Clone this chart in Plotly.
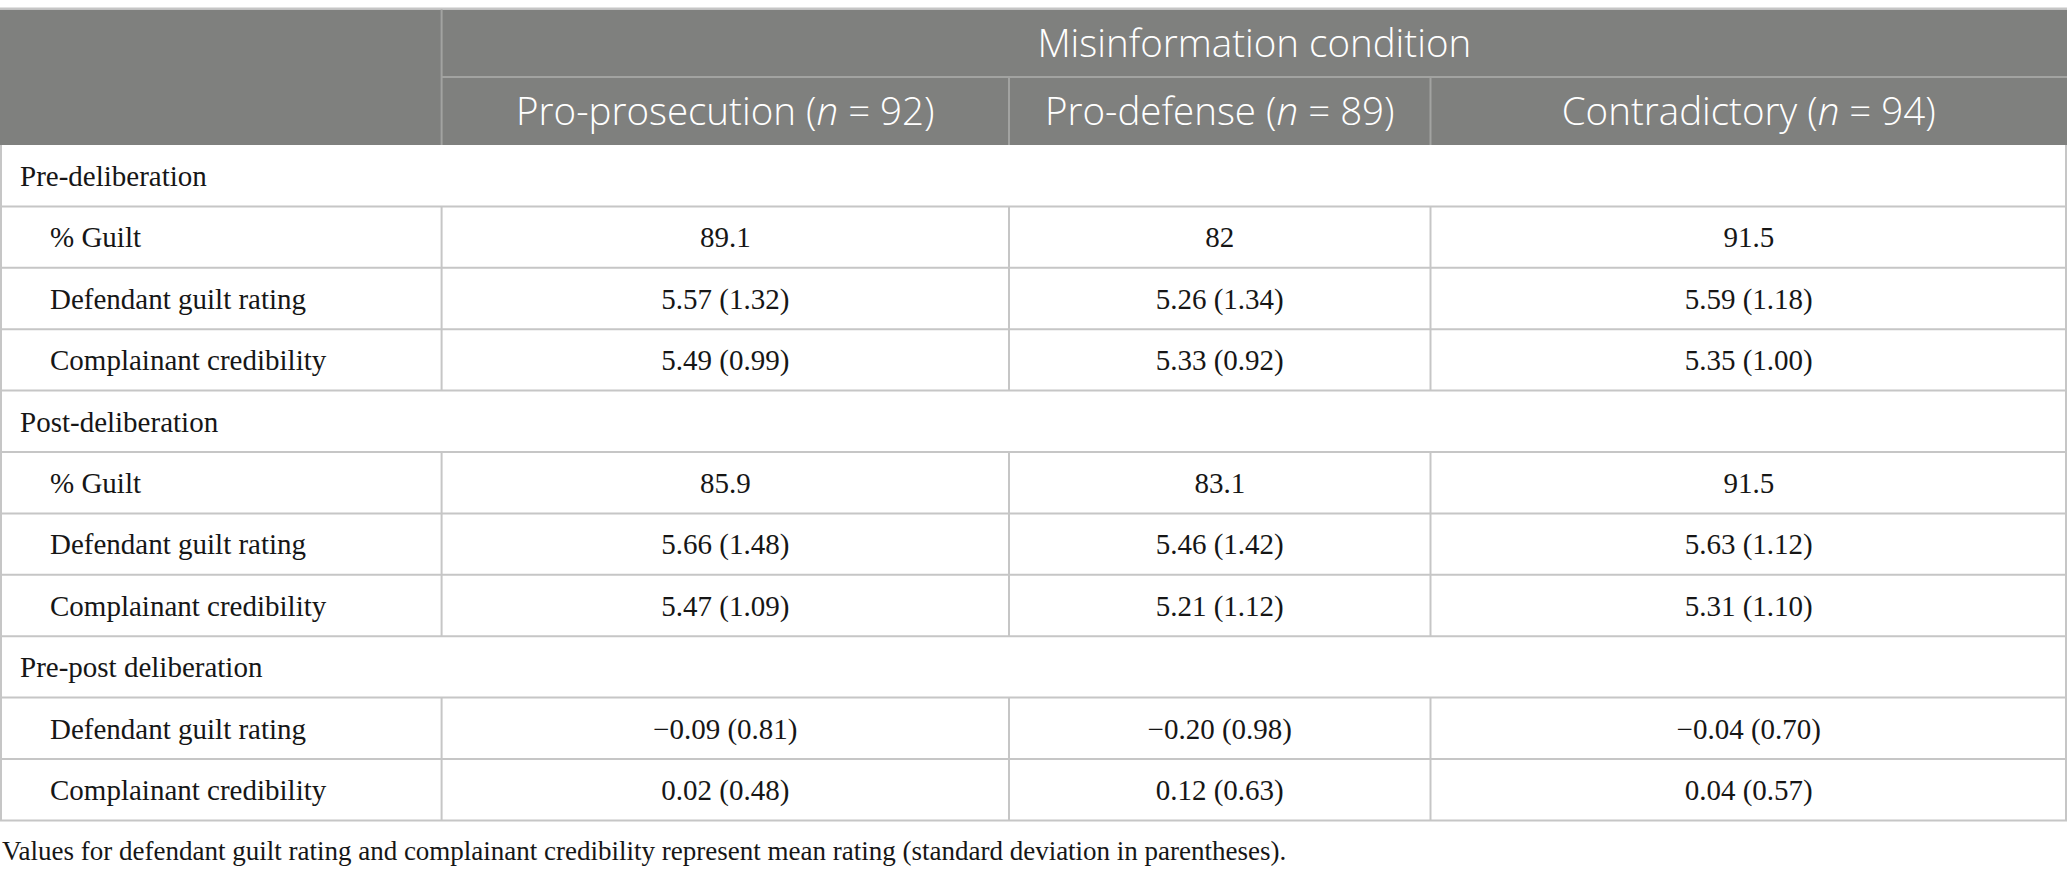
import plotly.graph_objects as go

W, H = 2067, 877

# table content
col_headers = ['Pro-prosecution (<i>n</i> = 92)', 'Pro-defense (<i>n</i> = 89)', 'Contradictory (<i>n</i> = 94)']
span_header = 'Misinformation condition'
groups = ['Pre-deliberation', 'Post-deliberation', 'Pre-post deliberation']
group_items = [
    ['% Guilt', 'Defendant guilt rating', 'Complainant credibility'],
    ['% Guilt', 'Defendant guilt rating', 'Complainant credibility'],
    ['Defendant guilt rating', 'Complainant credibility'],
]
pro_prosecution = ['89.1', '5.57 (1.32)', '5.49 (0.99)',
                   '85.9', '5.66 (1.48)', '5.47 (1.09)',
                   '\u22120.09 (0.81)', '0.02 (0.48)']
pro_defense = ['82', '5.26 (1.34)', '5.33 (0.92)',
               '83.1', '5.46 (1.42)', '5.21 (1.12)',
               '\u22120.20 (0.98)', '0.12 (0.63)']
contradictory = ['91.5', '5.59 (1.18)', '5.35 (1.00)',
                 '91.5', '5.63 (1.12)', '5.31 (1.10)',
                 '\u22120.04 (0.70)', '0.04 (0.57)']
footnote = ('Values for defendant guilt rating and complainant credibility represent '
            'mean rating (standard deviation in parentheses).')

# geometry (pixels)
col_x = [0, 441.6, 1009, 1430.5, W]
hdr_top, hdr_mid, hdr_bot = 9.5, 77, 145
row_h = 61.4
text_dy = 3      # serif text sits a touch below the row centre
hdr_dy = 4

HEADER_FILL = '#7f807e'
HEADER_LINE = '#a2a3a1'
GRID = '#c6c6c6'
TEXT = '#161616'
SERIF = 'Liberation Serif'
SANS = 'Open Sans'

fig = go.Figure()
shapes = []

# header block
shapes.append(dict(type='rect', x0=0, x1=W, y0=hdr_top, y1=hdr_bot,
                   fillcolor=HEADER_FILL, line_width=0, layer='below'))
shapes.append(dict(type='line', x0=0, x1=W, y0=hdr_top - 1, y1=hdr_top - 1,
                   line=dict(color=GRID, width=2)))
shapes.append(dict(type='line', x0=col_x[1], x1=W, y0=hdr_mid, y1=hdr_mid,
                   line=dict(color=HEADER_LINE, width=2)))
shapes.append(dict(type='line', x0=col_x[1], x1=col_x[1], y0=hdr_top, y1=hdr_bot,
                   line=dict(color=HEADER_LINE, width=2)))
for cx in col_x[2:4]:
    shapes.append(dict(type='line', x0=cx, x1=cx, y0=hdr_mid, y1=hdr_bot,
                       line=dict(color=HEADER_LINE, width=2)))

# body rows
label_x, label_y, label_txt = [], [], []
cell_x, cell_y, cell_txt = [], [], []
y = hdr_bot
k = 0
for g, items in zip(groups, group_items):
    label_x.append(20)
    label_y.append(y + row_h / 2 + text_dy)
    label_txt.append(g)
    shapes.append(dict(type='line', x0=0, x1=W, y0=y + row_h, y1=y + row_h,
                       line=dict(color=GRID, width=2)))
    y += row_h
    for it in items:
        label_x.append(50)
        label_y.append(y + row_h / 2 + text_dy)
        label_txt.append(it)
        for c, series in enumerate([pro_prosecution, pro_defense, contradictory]):
            cell_x.append((col_x[c + 1] + col_x[c + 2]) / 2)
            cell_y.append(y + row_h / 2 + text_dy)
            cell_txt.append(series[k])
        for cx in col_x[1:4]:
            shapes.append(dict(type='line', x0=cx, x1=cx, y0=y, y1=y + row_h,
                               line=dict(color=GRID, width=2)))
        shapes.append(dict(type='line', x0=0, x1=W, y0=y + row_h, y1=y + row_h,
                           line=dict(color=GRID, width=2)))
        y += row_h
        k += 1
table_bot = y

# outer borders of body
shapes.append(dict(type='line', x0=1, x1=1, y0=hdr_bot, y1=table_bot,
                   line=dict(color=GRID, width=2)))
shapes.append(dict(type='line', x0=W - 1, x1=W - 1, y0=hdr_bot, y1=table_bot,
                   line=dict(color=GRID, width=2)))

fig.add_trace(go.Scatter(x=label_x, y=label_y, text=label_txt, mode='text',
                         textposition='middle right',
                         textfont=dict(family=SERIF, size=29, color=TEXT),
                         hoverinfo='skip', showlegend=False))
fig.add_trace(go.Scatter(x=cell_x, y=cell_y, text=cell_txt, mode='text',
                         textposition='middle center',
                         textfont=dict(family=SERIF, size=29, color=TEXT),
                         hoverinfo='skip', showlegend=False))

# header text
hx = [(col_x[1] + W) / 2] + [(col_x[i] + col_x[i + 1]) / 2 for i in range(1, 4)]
hy = [(hdr_top + hdr_mid) / 2 + hdr_dy] + [(hdr_mid + hdr_bot) / 2 + hdr_dy] * 3
fig.add_trace(go.Scatter(x=hx, y=hy, text=[span_header] + col_headers, mode='text',
                         textposition='middle center',
                         textfont=dict(family=SANS, size=38.5, color='white', weight=300),
                         hoverinfo='skip', showlegend=False))

# footnote
fig.add_trace(go.Scatter(x=[2], y=[table_bot + 33], text=[footnote], mode='text',
                         textposition='middle right',
                         textfont=dict(family=SERIF, size=27, color=TEXT),
                         hoverinfo='skip', showlegend=False))

fig.update_layout(
    width=W, height=H,
    margin=dict(l=0, r=0, t=0, b=0),
    paper_bgcolor='white', plot_bgcolor='white',
    shapes=shapes,
    xaxis=dict(range=[0, W], visible=False, fixedrange=True),
    yaxis=dict(range=[H, 0], visible=False, fixedrange=True),
)

fig.write_html('out.html', config={'displayModeBar': False},
               post_script="document.body.style.margin='0';")
